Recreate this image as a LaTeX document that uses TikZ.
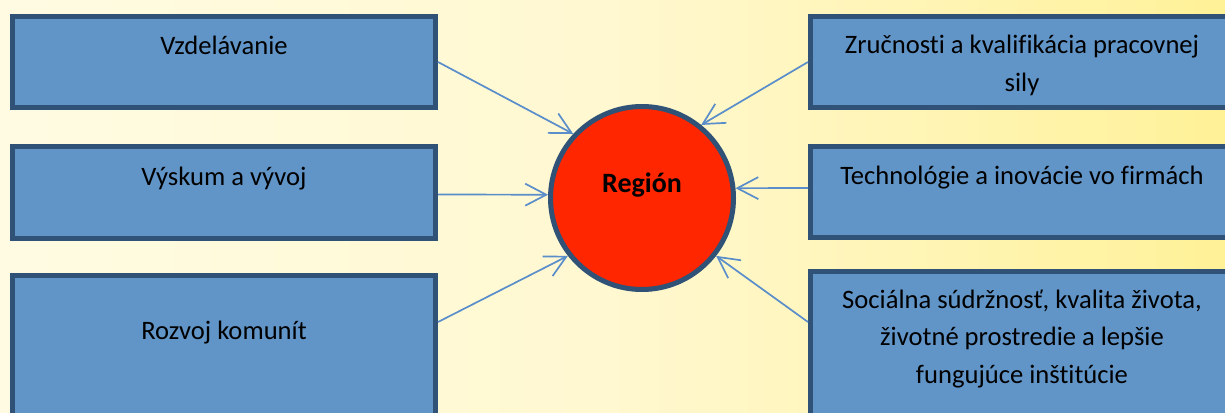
\documentclass[tikz,border=0pt]{standalone}
\usepackage{fontspec}
\setmainfont{Carlito}[Ligatures={NoCommon}]
\usetikzlibrary{arrows.meta}
\definecolor{boxfill}{HTML}{6195C8}
\definecolor{boxline}{HTML}{2F5276}
\definecolor{arrowc}{HTML}{5A8ECB}
\definecolor{regfill}{HTML}{FF2600}
\definecolor{bga}{HTML}{FFFFF6}
\definecolor{bgb}{HTML}{FFF8D0}
\definecolor{bgc}{HTML}{FFF2A0}
\definecolor{bgd}{HTML}{FFEA40}
\pgfdeclarehorizontalshading{bgshade}{100bp}{color(0bp)=(bga); color(50bp)=(bgb); color(72bp)=(bgc); color(100bp)=(bgd)}
\begin{document}
\begin{tikzpicture}[x=1pt,y=-1pt,
  box/.style={draw=boxline, fill=boxfill, line width=5pt, rectangle, inner sep=0pt, minimum width=423pt},
  txt/.style={anchor=base, inner sep=0pt, text=black, font=\fontsize{26.6}{37.5}\selectfont},
  region/.style={circle, draw=boxline, fill=regfill, line width=5pt, minimum size=183pt, inner sep=0pt},
  conn/.style={draw=arrowc, line width=1.7pt, -{Straight Barb[length=21pt, width=22pt, line width=1.7pt]}}
]
\useasboundingbox (0,0) rectangle (1225,412);
\clip (0,0) rectangle (1225,412);
\shade[shading=bgshade] (0,0) rectangle (1225,412);

% left boxes
\node[box, minimum height=91pt] (l1) at (224,62) {};
\node[box, minimum height=92pt] (l2) at (224,192.5) {};
\node[box, minimum height=155pt] (l3) at (224,353) {};
% right boxes
\node[box, minimum height=91pt] (r1) at (1022,62) {};
\node[box, minimum height=91pt] (r2) at (1022,192) {};
\node[box, minimum height=159pt] (r3) at (1022,351) {};

% texts
\node[txt] (l1t) at (224,55) {Vzdelávanie};
\node[txt] (l2t) at (224,185) {Výskum a vývoj};
\node[txt] (l3t) at (224,339) {Rozvoj komunít};
\node[txt] (r1t) at (1022,54) {\begin{tabular}[t]{@{}c@{}}Zručnosti a kvalifikácia pracovnej\\ sily\end{tabular}};
\node[txt] (r2t) at (1022,184) {Technológie a inovácie vo firmách};
\node[txt] (r3t) at (1022,308) {\begin{tabular}[t]{@{}c@{}}Sociálna súdržnosť, kvalita života,\\ životné prostredie a lepšie\\ fungujúce inštitúcie\end{tabular}};

% region
\node[region] (reg) at (642,198) {};
\node[anchor=base, inner sep=0pt, font=\fontsize{28}{34}\selectfont\bfseries] (regt) at (642,192) {Región};

% connectors
\draw[conn] (l1.east) -- (reg.137);
\draw[conn] ([yshift=-2pt]l2.east) -- (reg.178);
\draw[conn] ([yshift=-49pt]l3.north east) -- (reg.218);
\draw[conn] (r1.west) -- (reg.51);
\draw[conn] ([yshift=4pt]r2.west) -- (reg.6);
\draw[conn] ([yshift=-53pt]r3.north west) -- (reg.-38);
\end{tikzpicture}
\end{document}
